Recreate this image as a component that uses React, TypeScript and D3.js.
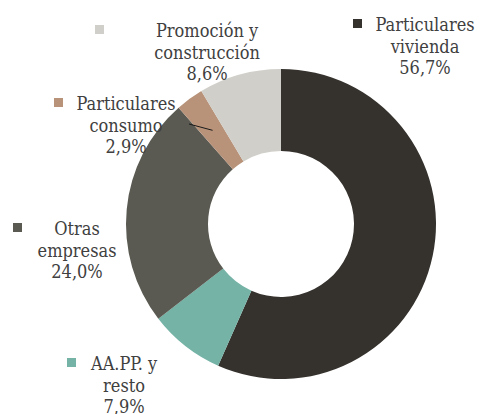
import React from 'react';
import * as d3 from 'd3';

// Slices in drawing order, clockwise from 12 o'clock
const categories = ['Particulares vivienda', 'AA.PP. y resto', 'Otras empresas', 'Particulares consumo', 'Promoción y construcción'];
const values = [56.7, 7.9, 24.0, 2.9, 8.6];
const valueLabels = ['56,7%', '7,9%', '24,0%', '2,9%', '8,6%'];
const labelLines = [
  ['Particulares', 'vivienda'],
  ['AA.PP. y', 'resto'],
  ['Otras', 'empresas'],
  ['Particulares', 'consumo'],
  ['Promoción y', 'construcción'],
];
const colors = ['#35312d', '#74b3a6', '#5a5a52', '#b8937a', '#d0cfc9'];

export default function App() {
  const width = 483;
  const height = 414;
  const cx = 281;
  const cy = 224;
  const outerR = 155;
  const innerR = 73;

  // label block: centre x and first baseline (relative to donut centre), marker x offset
  const labelLayout = [
    { x: 144, y: -193, sq: -72 },
    { x: -157, y: 146, sq: -57 },
    { x: -204, y: 11, sq: -64 },
    { x: -155, y: -114, sq: -72 },
    { x: -74, y: -187, sq: -112 },
  ];
  const lineH = 21.5;

  const pie = d3.pie<number>().value(d => d).sort(null);
  const arcs = pie(values);
  const arc = d3.arc<d3.PieArcDatum<number>>().innerRadius(innerR).outerRadius(outerR);
  const leaderArc = d3.arc<d3.PieArcDatum<number>>().innerRadius(116 * 2).outerRadius(0);

  return (
    <svg width={width} height={height} style={{ position: 'absolute', left: 0, top: 0 }}
      fontFamily="'DejaVu Serif Condensed', 'DejaVu Serif', serif">
      <rect width={width} height={height} fill="#ffffff" />
      <g transform={`translate(${cx},${cy})`}>
        {arcs.map((a, i) => (
          <path key={categories[i]} d={arc(a) || ''} fill={colors[i]} />
        ))}
        {/* leader line for the small consumo slice */}
        {(() => {
          const [ex, ey] = leaderArc.centroid(arcs[3]);
          const l = labelLayout[3];
          return <line x1={l.x + 63} y1={l.y + 14} x2={ex} y2={ey} stroke="#1a1a1a" strokeWidth={1} />;
        })()}
        {arcs.map((a, i) => {
          const l = labelLayout[i];
          const lines = [...labelLines[i], valueLabels[i]];
          return (
            <g key={'lab' + i}>
              <rect x={l.x + l.sq} y={l.y - 12} width={9} height={9} fill={colors[i]} />
              <text textAnchor="middle" fontSize={18} fill="#404040" style={{ fontStretch: 'condensed' }}>
                {lines.map((t, j) => (
                  <tspan key={j} x={l.x} y={l.y + j * lineH}>{t}</tspan>
                ))}
              </text>
            </g>
          );
        })}
      </g>
    </svg>
  );
}
